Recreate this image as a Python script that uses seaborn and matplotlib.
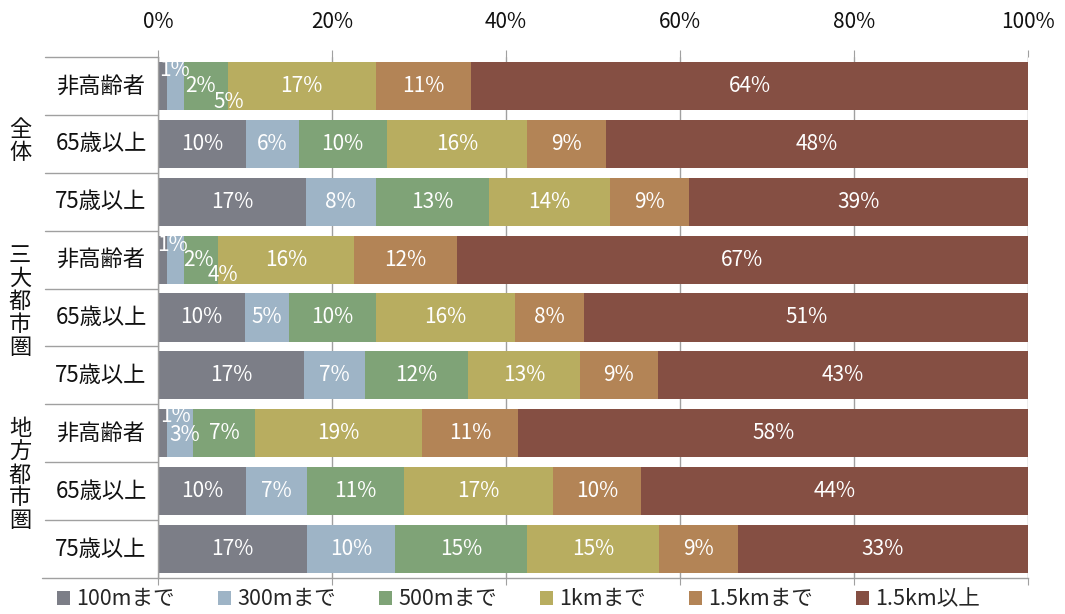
import numpy as np
import pandas as pd
import matplotlib.pyplot as plt
import matplotlib.transforms as mtransforms
from matplotlib.patches import Patch
import seaborn as sns

# rows: group x age class, values (%)
groups = ["全体", "三大都市圏", "地方都市圏"]
ages = ["非高齢者", "65歳以上", "75歳以上"]
distances = ["100mまで", "300mまで", "500mまで", "1kmまで", "1.5kmまで", "1.5km以上"]
colors = ["#7C7E87", "#9EB4C6", "#7FA377", "#B8AD60", "#B38456", "#854F43"]

shares = [
    [1, 2, 5, 17, 11, 64],
    [10, 6, 10, 16, 9, 48],
    [17, 8, 13, 14, 9, 39],
    [1, 2, 4, 16, 12, 67],
    [10, 5, 10, 16, 8, 51],
    [17, 7, 12, 13, 9, 43],
    [1, 3, 7, 19, 11, 58],
    [10, 7, 11, 17, 10, 44],
    [17, 10, 15, 15, 9, 33],
]

row_ids = [f"{g}|{a}" for g in groups for a in ages]

sns.set_style("white")
plt.rcParams["font.family"] = ["Noto Sans CJK JP", "DejaVu Sans"]

vals = np.array(shares, dtype=float)
pct = vals / vals.sum(axis=1, keepdims=True) * 100  # 100% stacked like the original
cum = pct.cumsum(axis=1)

df = pd.DataFrame(cum, columns=distances)
df["row"] = row_ids

fig, ax = plt.subplots(figsize=(10.65, 6.14), dpi=100)
fig.subplots_adjust(left=0.1484, right=0.9653, top=0.9072, bottom=0.0586)

# draw cumulative totals from the widest down so each segment shows
for i in range(len(distances) - 1, -1, -1):
    sns.barplot(data=df, x=distances[i], y="row", color=colors[i], orient="h",
                width=0.83, errorbar=None, saturation=1, linewidth=0, ax=ax)

# data labels (small segments nudged the way Excel placed them)
nudges = {(0, 0): (12, 16), (0, 1): (25, 0), (0, 2): (23, -16),
          (3, 0): (10, 15), (3, 1): (23, 0), (3, 2): (22, -15),
          (6, 0): (13, 17), (6, 1): (5, -2)}
for r in range(len(row_ids)):
    left = 0
    for s in range(len(distances)):
        w = pct[r, s]
        dx, dy = nudges.get((r, s), (0, 0))
        ax.annotate(f"{shares[r][s]}%", xy=(left + w / 2, r), xytext=(dx, dy),
                    textcoords="offset pixels", ha="center", va="center",
                    color="white", fontsize=15)
        left += w

ax.set_xlim(0, 100)
ax.set_ylim(len(row_ids) - 0.5, -0.5)
ax.set_xticks(range(0, 101, 20))
ax.set_xticklabels([f"{t}%" for t in range(0, 101, 20)], fontsize=15, color="#111111")
ax.tick_params(axis="x", top=True, labeltop=True, bottom=True, labelbottom=False,
               direction="out", color="#A0A0A0", length=5)
for t in ax.xaxis.get_major_ticks():
    t.tick2line.set_markersize(3)
ax.xaxis.set_tick_params(pad=12)
ax.set_xlabel("")
ax.set_ylabel("")
ax.set_yticks([])
ax.set_axisbelow(True)
ax.grid(axis="x", color="#A0A0A0", linewidth=1)
ax.grid(axis="y", visible=False)
for side in ["top", "right"]:
    ax.spines[side].set_visible(False)
for side in ["left", "bottom"]:
    ax.spines[side].set_color("#A0A0A0")
    ax.spines[side].set_linewidth(1)

# category table on the left
trans = mtransforms.blended_transform_factory(ax.transAxes, ax.transData)
for b in np.arange(-0.5, len(row_ids), 1):
    x0 = -0.133 if b == len(row_ids) - 0.5 else -0.13
    ax.plot([x0, 0], [b, b], transform=trans, color="#A0A0A0", lw=1, clip_on=False)
for r, rid in enumerate(row_ids):
    ax.text(-0.0655, r, rid.split("|")[1], transform=trans, ha="center", va="center",
            fontsize=16, color="#111111")
for g, name in enumerate(groups):
    shift = -0.28 if len(name) > 2 else -0.05
    ax.text(-0.1586, g * 3 + 1 + shift, "\n".join(name), transform=trans,
            ha="center", va="center", fontsize=16, color="#111111", linespacing=1.0)

handles = [Patch(facecolor=c, edgecolor="none") for c in colors]
fig.legend(handles, distances, loc="center", bbox_to_anchor=(0.487, 0.024), ncol=6,
           frameon=False, fontsize=15.5, handlelength=0.6, handleheight=0.6,
           handletextpad=0.3, columnspacing=2.0)

fig.savefig("out.png", dpi=100)
